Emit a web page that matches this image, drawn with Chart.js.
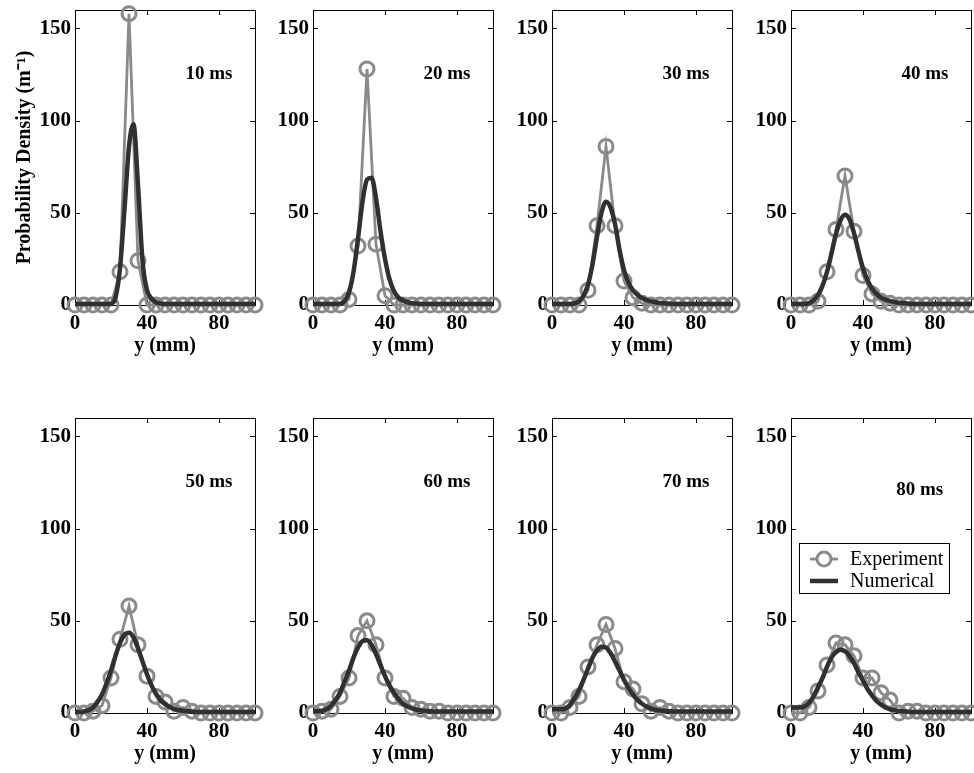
<!DOCTYPE html>
<html>
<head>
<meta charset="utf-8">
<script src="https://cdn.jsdelivr.net/npm/chart.js@4.4.1/dist/chart.umd.min.js"></script>
<style>
  html, body { margin: 0; padding: 0; background: #fff; overflow: hidden; width: 974px; height: 773px; }
  canvas { position: absolute; }
</style>
</head>
<body>
<canvas id="c10"></canvas>
<canvas id="c20"></canvas>
<canvas id="c30"></canvas>
<canvas id="c40"></canvas>
<canvas id="c50"></canvas>
<canvas id="c60"></canvas>
<canvas id="c70"></canvas>
<canvas id="c80"></canvas>
<script>
// positions along y (mm)
const expPos = [0,5,10,15,20,25,30,35,40,45,50,55,60,65,70,75,80,85,90,95,100];
const numPos = [0,2.5,5,7.5,10,12.5,15,17.5,20,22.5,25,27.5,30,32.5,35,37.5,40,42.5,45,47.5,50,
                52.5,55,57.5,60,62.5,65,67.5,70,72.5,75,77.5,80,82.5,85,87.5,90,92.5,95,97.5,100];

const panelLabels = ['10 ms','20 ms','30 ms','40 ms','50 ms','60 ms','70 ms','80 ms'];
const xTicks = [0, 40, 80];
const yTicks = [0, 50, 100, 150];

// experiment (probability density, 1/m)
const exp10 = [0,0,0,0,0,18,158,24,0,0,0,0,0,0,0,0,0,0,0,0,0];
const exp20 = [0,0,0,0,3,32,128,33,5,0,0,0,0,0,0,0,0,0,0,0,0];
const exp30 = [0,0,0,0,8,43,86,43,13,4,1,0,0,0,0,0,0,0,0,0,0];
const exp40 = [0,0,0,2,18,41,70,40,16,6,2,1,0,0,0,0,0,0,0,0,0];
const exp50 = [0,0,1,4,19,40,58,37,20,9,6,1,3,1,0,0,0,0,0,0,0];
const exp60 = [0,1,2,9,19,42,50,37,19,9,8,3,2,1,1,0,0,0,0,0,0];
const exp70 = [0,0,3,9,25,37,48,35,17,13,5,1,3,1,0,0,0,0,0,0,0];
const exp80 = [0,0,3,12,26,38,37,31,19,19,11,7,0,1,1,0,0,0,0,0,0];

// numerical
const num10 = [0.5,0.5,0.5,0.5,0.5,0.5,0.5,0.5,0.8,4,20,52,86,98,65,24,8,3.5,1.5,0.8,0.5,0.5,
               0.5,0.5,0.5,0.5,0.5,0.5,0.5,0.5,0.5,0.5,0.5,0.5,0.5,0.5,0.5,0.5,0.5,0.5,0.5];
const num20 = [0.5,0.5,0.5,0.5,0.5,0.5,0.7,2,7,18,36,56,68,69,58,40,25,14,7.5,4,2.5,1.5,1,0.8,0.6,
               0.5,0.5,0.5,0.5,0.5,0.5,0.5,0.5,0.5,0.5,0.5,0.5,0.5,0.5,0.5,0.5];
const num30 = [0.5,0.5,0.5,0.5,0.5,0.8,2,5,11,22,37,50,56,53,44,30,19,12,8,5.5,3.8,2.7,2,1.5,1.1,0.9,0.8,
               0.6,0.6,0.6,0.6,0.6,0.6,0.6,0.6,0.6,0.6,0.6,0.6,0.6,0.6];
const num40 = [0.5,0.5,0.5,0.5,1,2.5,5.5,10.5,18,28,38.5,46,49,46.5,39,29,20,13.5,9,6,4,2.9,2.2,1.6,1.2,1,0.8,
               0.6,0.6,0.6,0.6,0.6,0.6,0.6,0.6,0.6,0.6,0.6,0.6,0.6,0.6];
const num50 = [0.5,0.5,0.8,1.5,3,6,10,16,23,31,38,42.5,43.5,41,35,28,21,15,10.5,7,4.8,3.3,2.3,1.6,1.2,1,0.8,
               0.6,0.6,0.6,0.6,0.6,0.6,0.6,0.6,0.6,0.6,0.6,0.6,0.6,0.6];
const num60 = [1,1,1.2,2,4,7,11,17,23,30,35.5,39,39.5,37,32,26,20,15,11,7.5,5,3.5,2.5,1.8,1.4,1.2,1,
               0.8,0.8,0.8,0.8,0.8,0.8,0.8,0.8,0.8,0.8,0.8,0.8,0.8,0.8];
const num70 = [2,2,2,2.5,4.5,8,12.5,18,24,30,34,36,35.5,32.5,28,23,18,13.5,10,7,5,3.5,2.5,1.8,1.4,1.2,1,
               0.8,0.8,0.8,0.8,0.8,0.8,0.8,0.8,0.8,0.8,0.8,0.8,0.8,0.8];
const num80 = [3,3,3,3.5,5.5,9,14,19,25,30,33,34.3,33.5,31,27,22,17.5,13,9.5,6.5,4.5,3,2,1.5,1.1,0.9,0.7,
               0.5,0.5,0.5,0.5,0.5,0.5,0.5,0.5,0.5,0.5,0.5,0.5,0.5,0.5];

const expSeries = [exp10, exp20, exp30, exp40, exp50, exp60, exp70, exp80];
const numSeries = [num10, num20, num30, num40, num50, num60, num70, num80];

const SERIF = "'Liberation Serif', 'Times New Roman', serif";
const EXP_COLOR = '#8a8a8a';
const NUM_COLOR = '#303030';
Chart.defaults.font.family = SERIF;
Chart.defaults.color = '#000';

// box with inward ticks on all four sides, like the original figure
const framePlugin = {
    id: 'frame',
    beforeDatasetsDraw(chart) {
        const ctx = chart.ctx;
        const a = chart.chartArea;
        const xs = chart.scales.x, ys = chart.scales.y;
        ctx.save();
        ctx.strokeStyle = '#000';
        ctx.lineWidth = 1;
        ctx.strokeRect(Math.round(a.left) + 0.5, Math.round(a.top) + 0.5,
                       Math.round(a.width), Math.round(a.height));
        ctx.beginPath();
        xs.ticks.forEach(t => {
            const px = Math.round(xs.getPixelForValue(t.value)) + 0.5;
            ctx.moveTo(px, a.bottom); ctx.lineTo(px, a.bottom - 5);
            ctx.moveTo(px, a.top); ctx.lineTo(px, a.top + 5);
        });
        ys.ticks.forEach(t => {
            const py = Math.round(ys.getPixelForValue(t.value)) + 0.5;
            ctx.moveTo(a.left, py); ctx.lineTo(a.left + 5, py);
            ctx.moveTo(a.right, py); ctx.lineTo(a.right - 5, py);
        });
        ctx.stroke();
        ctx.restore();
    }
};

const panelLabelPlugin = {
    id: 'panelLabel',
    afterDatasetsDraw(chart, args, opts) {
        if (!opts.text) return;
        const ctx = chart.ctx;
        ctx.save();
        ctx.font = 'bold 19px ' + SERIF;
        ctx.fillStyle = '#000';
        ctx.textAlign = 'right';
        ctx.textBaseline = 'middle';
        ctx.fillText(opts.text, chart.scales.x.getPixelForValue(opts.x), chart.scales.y.getPixelForValue(opts.y));
        ctx.restore();
    }
};

const boxLegendPlugin = {
    id: 'boxLegend',
    afterDraw(chart, args, opts) {
        if (!opts.show) return;
        const ctx = chart.ctx;
        const a = chart.chartArea;
        const bx = a.left + opts.dx, by = a.top + opts.dy;
        ctx.save();
        ctx.fillStyle = '#fff';
        ctx.fillRect(bx, by, opts.w, opts.h);
        ctx.strokeStyle = '#000';
        ctx.lineWidth = 1;
        ctx.strokeRect(bx + 0.5, by + 0.5, opts.w, opts.h);
        const items = chart.data.datasets.slice().reverse();
        items.forEach((ds, i) => {
            const cy = by + 16 + i * 22;
            ctx.strokeStyle = ds.borderColor;
            ctx.lineWidth = ds.borderWidth;
            ctx.beginPath();
            ctx.moveTo(bx + 11, cy); ctx.lineTo(bx + 39, cy);
            ctx.stroke();
            if (ds.pointRadius > 0) {
                ctx.lineWidth = ds.pointBorderWidth;
                ctx.beginPath();
                ctx.arc(bx + 25, cy, ds.pointRadius, 0, Math.PI * 2);
                ctx.fillStyle = '#fff';
                ctx.fill();
                ctx.stroke();
            }
            ctx.fillStyle = '#000';
            ctx.font = '20px ' + SERIF;
            ctx.textAlign = 'left';
            ctx.textBaseline = 'middle';
            ctx.fillText(ds.label, bx + 51, cy + 1);
        });
        ctx.restore();
    }
};

// canvas placement: plot areas are 180 px wide, 298 px high
const plotLefts = [75, 313, 552, 791];
const rowTops = [0, 408];

function makePanel(i) {
    const col = i % 4, row = Math.floor(i / 4);
    const yAxisW = col === 0 && row === 0 ? 75 : 50;
    const canvas = document.getElementById('c' + (i + 1) + '0');
    canvas.width = yAxisW + 180 + 12;
    canvas.height = 365;
    canvas.style.left = (plotLefts[col] - yAxisW) + 'px';
    canvas.style.top = rowTops[row] + 'px';

    const tickFont = { size: 21, weight: 'bold' };
    const noPad = s => { s.paddingTop = 0; s.paddingBottom = 0; s.paddingLeft = 0; s.paddingRight = 0; };

    new Chart(canvas, {
        type: 'line',
        data: {
            datasets: [
                {
                    label: 'Numerical',
                    data: numPos.map((p, k) => ({ x: p, y: numSeries[i][k] })),
                    borderColor: NUM_COLOR,
                    borderWidth: 4.5,
                    pointRadius: 0,
                    cubicInterpolationMode: 'monotone',
                    clip: false
                },
                {
                    label: 'Experiment',
                    data: expPos.map((p, k) => ({ x: p, y: expSeries[i][k] })),
                    borderColor: EXP_COLOR,
                    borderWidth: 2.8,
                    pointRadius: 7,
                    pointBorderWidth: 3,
                    pointBorderColor: EXP_COLOR,
                    pointBackgroundColor: 'rgba(0,0,0,0)',
                    tension: 0,
                    clip: false
                }
            ]
        },
        options: {
            responsive: false,
            animation: false,
            events: [],
            layout: { padding: { top: 7, right: 12, left: 0, bottom: 0 } },
            plugins: {
                legend: { display: false },
                tooltip: { enabled: false },
                panelLabel: { text: panelLabels[i], x: i === 7 ? 84.5 : 87.5, y: i === 7 ? 121 : 125 },
                boxLegend: { show: i === 7, dx: 8, dy: 125, w: 150, h: 50 }
            },
            scales: {
                x: {
                    type: 'linear',
                    min: 0, max: 100,
                    afterFit: s => { s.height = 60; noPad(s); },
                    afterBuildTicks: s => { s.ticks = xTicks.map(v => ({ value: v })); },
                    grid: { display: false, drawTicks: false },
                    border: { display: false },
                    ticks: { font: tickFont, color: '#000', padding: 6, maxRotation: 0 },
                    title: { display: true, text: 'y (mm)', font: { size: 20, weight: 'bold' }, color: '#000',
                             padding: { top: 0, bottom: 7 } }
                },
                y: {
                    min: 0, max: 160,
                    afterFit: s => { s.width = yAxisW; noPad(s); },
                    afterBuildTicks: s => { s.ticks = yTicks.map(v => ({ value: v })); },
                    grid: { display: false, drawTicks: false },
                    border: { display: false },
                    ticks: { font: tickFont, color: '#000', padding: 4 },
                    title: { display: i === 0, text: 'Probability Density (m\u207B\u00B9)',
                             font: { size: 20, weight: 'bold' }, color: '#000',
                             padding: { top: 13, bottom: 0 } }
                }
            }
        },
        plugins: [framePlugin, panelLabelPlugin, boxLegendPlugin]
    });
}

for (let i = 0; i < 8; i++) makePanel(i);
</script>
</body>
</html>
